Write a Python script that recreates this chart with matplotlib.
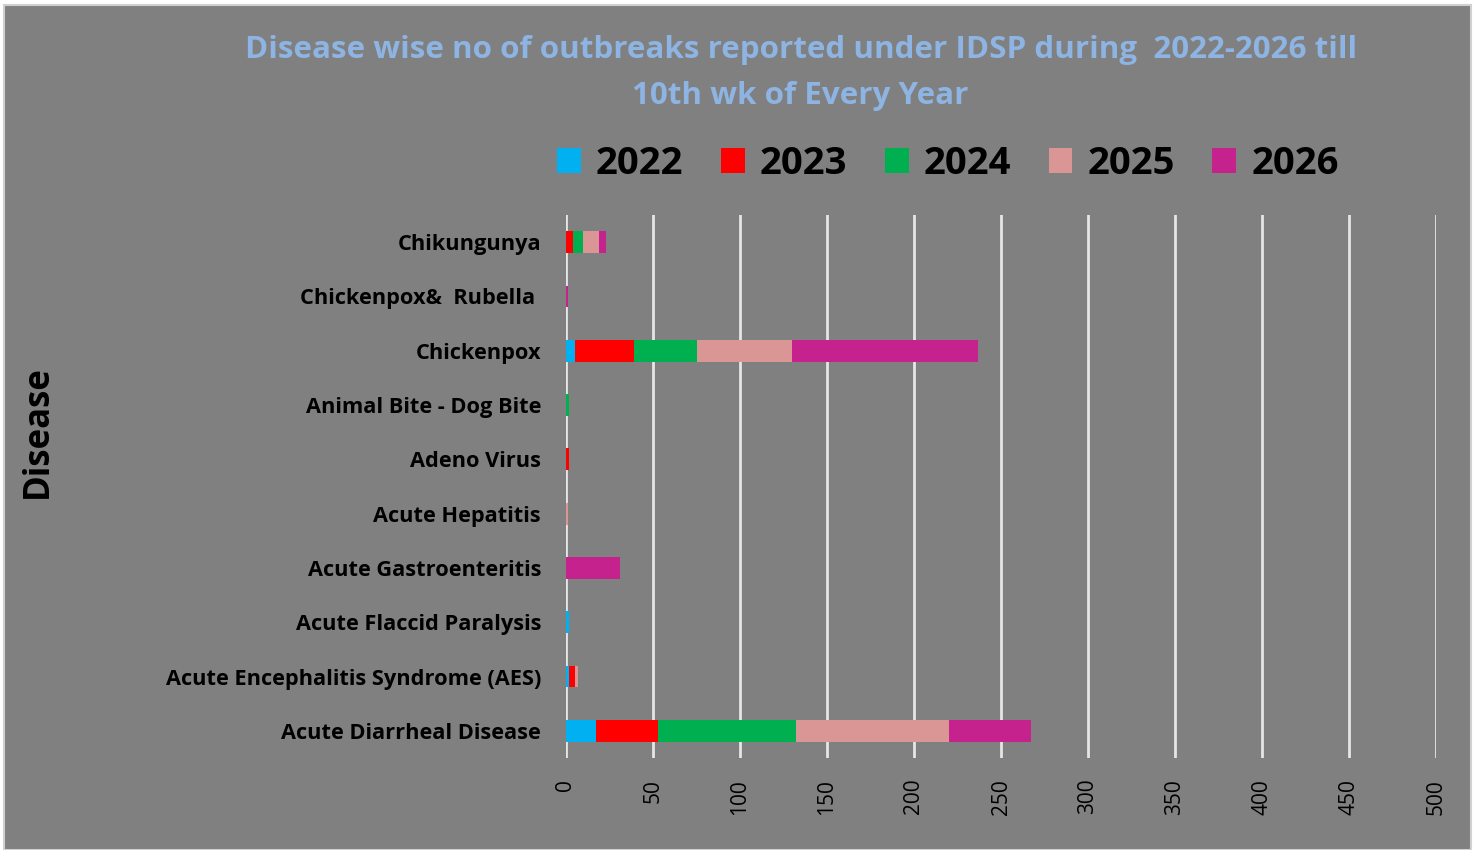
import matplotlib.pyplot as plt
import numpy as np
from matplotlib.patches import Rectangle

# data (bottom to top)
diseases = ['Acute Diarrheal Disease', 'Acute Encephalitis Syndrome (AES)',
            'Acute Flaccid Paralysis', 'Acute Gastroenteritis', 'Acute Hepatitis',
            'Adeno Virus', 'Animal Bite - Dog Bite', 'Chickenpox',
            'Chickenpox&  Rubella ', 'Chikungunya']
years = ['2022', '2023', '2024', '2025', '2026']
v2022 = [17, 2, 2, 0, 0, 0, 0, 5, 0, 0]
v2023 = [36, 3, 0, 0, 0, 2, 0, 34, 0, 4]
v2024 = [79, 0, 0, 0, 0, 0, 2, 36, 0, 6]
v2025 = [88, 2, 0, 0, 1, 0, 0, 55, 0, 9]
v2026 = [47, 0, 0, 31, 0, 0, 0, 107, 1, 4]
colors = ['#00B0F0', '#FF0000', '#00B050', '#DA9694', '#C6228E']

bg = '#808080'
font = 'Open Sans'

fig = plt.figure(figsize=(14.8, 8.5), dpi=100, facecolor='white')
fig.patches.append(Rectangle((4 / 1480, 0), 1467 / 1480, 845 / 850,
                             transform=fig.transFigure, facecolor=bg,
                             edgecolor='#d0d0d0', linewidth=1.5, zorder=-5))

ax = fig.add_axes([566 / 1480, 1 - 758 / 850, 870 / 1480, 543 / 850])
ax.set_facecolor(bg)
ax.patch.set_alpha(0)

y = np.arange(len(diseases))
left = np.zeros(len(diseases))
for yr, vals, c in zip(years, [v2022, v2023, v2024, v2025, v2026], colors):
    ax.barh(y, vals, left=left, height=0.4, color=c, label=yr, zorder=3)
    left += np.array(vals)

ax.set_xlim(0, 500)
ax.set_ylim(-0.5, 9.5)
ax.set_xticks(np.arange(0, 501, 50))
ax.set_yticks(y)
ax.set_yticklabels(diseases, fontsize=15.7, fontweight='bold', family=font)
for lbl in ax.get_xticklabels():
    lbl.set_rotation(90)
    lbl.set_fontsize(15)
    lbl.set_family(font)
ax.tick_params(axis='y', length=0, pad=18)
ax.tick_params(axis='x', length=0, pad=15)
ax.grid(axis='x', color='#e6e6e6', linewidth=2, zorder=1)
for s in ax.spines.values():
    s.set_visible(False)

fig.text(0.541, 1 - 73 / 850,
         'Disease wise no of outbreaks reported under IDSP during  2022-2026 till\n10th wk of Every Year',
         ha='center', va='center', color='#8DB4E2', fontsize=22.6,
         fontweight='bold', family=font, linespacing=1.7)

fig.text(38 / 1480, 1 - 432 / 850, 'Disease', rotation=90, ha='center',
         va='center', fontsize=25, fontweight='bold', family=font)

handles, labels = ax.get_legend_handles_labels()
fig.legend(handles, labels, loc='center', ncol=5, frameon=False,
           bbox_to_anchor=(948 / 1480, 1 - 164 / 850),
           prop={'family': font, 'weight': 'bold', 'size': 27.5},
           handlelength=0.62, handleheight=0.62, handletextpad=0.4,
           columnspacing=0.98)

fig.savefig('out.png', dpi=100, facecolor='white')
